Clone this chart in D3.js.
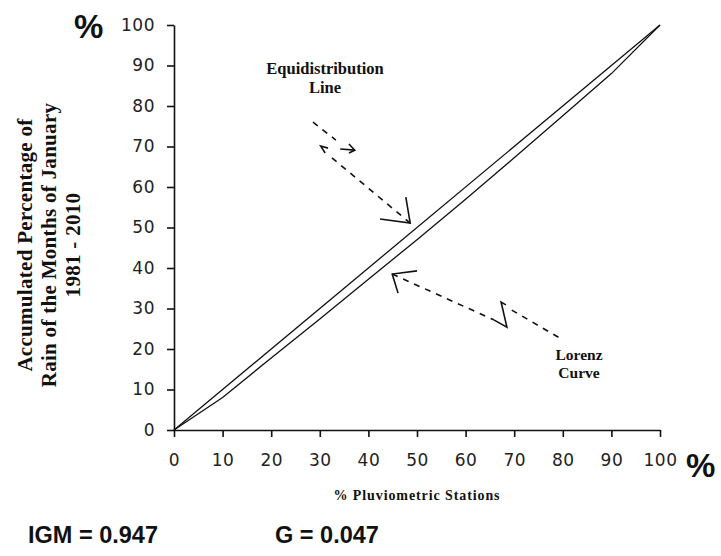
<!DOCTYPE html>
<html lang="en">
<head>
    <meta charset="UTF-8">
    <title>Lorenz curve</title>
    <script src="https://d3js.org/d3.v7.min.js"></script>
    <style>
        body { margin: 0; background: #fff; }
        .axis path, .axis line { stroke: #111; stroke-width: 1.6px; }
        .axis text { font-family: "DejaVu Sans", Arial, sans-serif; font-size: 17px; letter-spacing: 0.5px; fill: #222; }
        .serif { font-family: "Liberation Serif", "DejaVu Serif", serif; font-weight: bold; fill: #111; }
        .big { font-family: "Liberation Sans", Arial, sans-serif; font-weight: bold; fill: #111; }
    </style>
</head>
<body>
    <svg width="721" height="556"></svg>
    <script>
        // x = % pluviometric stations, y = accumulated % of rain
        const xTicks = [0, 10, 20, 30, 40, 50, 60, 70, 80, 90, 100];
        const yTicks = [0, 10, 20, 30, 40, 50, 60, 70, 80, 90, 100];
        const equiX = [0, 100];
        const equiY = [0, 100];
        const lorenzX = [0, 10, 20, 30, 40, 50, 60, 70, 80, 90, 100];
        const lorenzY = [0, 8, 17.8, 27.4, 37.2, 47, 57, 67.2, 77.6, 88, 100];
        const igm = "IGM = 0.947";
        const gini = "G = 0.047";

        // annotation arrows in data units
        const equiArrow = [
            {pts: [[28.6, 76], [33.3, 71.6]], dash: true},
            {pts: [[31.1, 68.4], [30.2, 70.1], [31.7, 69.6]], dash: false},
            {pts: [[34.2, 69.4], [37.2, 69.1]], dash: false},
            {pts: [[36, 70.6], [37.2, 69.1], [36, 68.4]], dash: false},
            {pts: [[32.5, 67.2], [48.6, 51.1]], dash: true},
            {pts: [[47.7, 57.5], [48.6, 51.1], [42.4, 52.1]], dash: false}
        ];
        const lorenzArrow = [
            {pts: [[50, 39.3], [44.9, 38.5], [46.1, 33.8]], dash: false},
            {pts: [[44.9, 38.5], [65.8, 27.2]], dash: true},
            {pts: [[65.8, 27.2], [68.5, 25.4], [67.3, 31.6], [68.3, 30.9]], dash: false},
            {pts: [[69.5, 29.6], [79.4, 22.7]], dash: true}
        ];

        const svg = d3.select("svg");

        const x = d3.scaleLinear().domain([0, 100]).range([174, 660]);
        const y = d3.scaleLinear().domain([0, 100]).range([430, 25]);

        svg.append("g")
            .attr("class", "axis")
            .attr("transform", "translate(0,430)")
            .call(d3.axisBottom(x).tickValues(xTicks).tickSize(7).tickSizeOuter(0).tickPadding(17));

        svg.append("g")
            .attr("class", "axis")
            .attr("transform", "translate(174,0)")
            .call(d3.axisLeft(y).tickValues(yTicks).tickSize(7).tickSizeOuter(0).tickPadding(12));

        const line = d3.line().x(d => x(d[0])).y(d => y(d[1]));

        svg.append("path")
            .datum(equiX.map((v, i) => [v, equiY[i]]))
            .attr("d", line)
            .attr("fill", "none")
            .attr("stroke", "#111")
            .attr("stroke-width", 1.3);

        svg.append("path")
            .datum(lorenzX.map((v, i) => [v, lorenzY[i]]))
            .attr("d", line)
            .attr("fill", "none")
            .attr("stroke", "#111")
            .attr("stroke-width", 1.3);

        svg.append("g").selectAll("path")
            .data(equiArrow.concat(lorenzArrow))
            .join("path")
            .attr("d", d => line(d.pts))
            .attr("fill", "none")
            .attr("stroke", "#111")
            .attr("stroke-width", 1.6)
            .attr("stroke-dasharray", d => d.dash ? "6,6" : null);

        // labels
        svg.append("text").attr("class", "big").attr("x", 74).attr("y", 38)
            .style("font-size", "33px").text("%");
        svg.append("text").attr("class", "big").attr("x", 686).attr("y", 477)
            .style("font-size", "33px").text("%");

        const equiLbl = svg.append("text").attr("class", "serif")
            .attr("text-anchor", "middle").style("font-size", "16.5px");
        equiLbl.append("tspan").attr("x", 325).attr("y", 74).text("Equidistribution");
        equiLbl.append("tspan").attr("x", 325).attr("y", 93).text("Line");

        const lorLbl = svg.append("text").attr("class", "serif")
            .attr("text-anchor", "middle").style("font-size", "15.5px");
        lorLbl.append("tspan").attr("x", 579).attr("y", 360).text("Lorenz");
        lorLbl.append("tspan").attr("x", 579).attr("y", 378).text("Curve");

        const yTitle = svg.append("text").attr("class", "serif")
            .attr("text-anchor", "middle")
            .attr("transform", "translate(0,245) rotate(-90)")
            .style("font-size", "21px")
            .style("letter-spacing", "0.3px");
        yTitle.append("tspan").attr("x", 0).attr("y", 32).text("Accumulated Percentage of");
        yTitle.append("tspan").attr("x", 0).attr("y", 56).text("Rain of the Months of January");
        yTitle.append("tspan").attr("x", 0).attr("y", 80).text("1981 - 2010");

        svg.append("text").attr("class", "serif")
            .attr("x", 417).attr("y", 500).attr("text-anchor", "middle")
            .style("font-size", "14px").style("letter-spacing", "0.9px")
            .text("% Pluviometric Stations");

        svg.append("text").attr("class", "big").attr("x", 28).attr("y", 543)
            .style("font-size", "23.5px").text(igm);
        svg.append("text").attr("class", "big").attr("x", 275).attr("y", 543)
            .style("font-size", "23.5px").text(gini);
    </script>
</body>
</html>
